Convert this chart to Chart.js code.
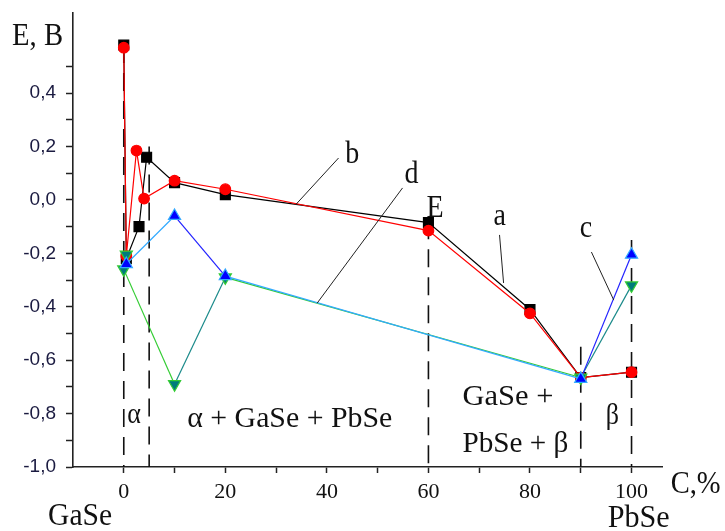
<!DOCTYPE html>
<html>
<head>
<meta charset="utf-8">
<script src="https://cdn.jsdelivr.net/npm/chart.js@4.4.0/dist/chart.umd.min.js"></script>
<style>
  body { margin: 0; background: #fff; }
  canvas { display: block; }
</style>
</head>
<body>
<canvas id="target" width="725" height="531"></canvas>
<script>
// curve a (black squares)
const aX = [0, 0.5, 3, 4.5, 10, 20, 60, 80, 90, 100];
const aY = [0.58, -0.22, -0.10, 0.16, 0.065, 0.02, -0.085, -0.41, -0.665, -0.645];
// curve b (red circles)
const bX = [0, 0.5, 2.5, 4, 10, 20, 60, 80, 90, 100];
const bY = [0.57, -0.21, 0.185, 0.005, 0.072, 0.04, -0.115, -0.425, -0.665, -0.645];
// curve c (blue triangles)
const cX = [0.5, 10, 20, 90, 100];
const cY = [-0.24, -0.06, -0.285, -0.67, -0.205];
// curve d (teal triangles down)
const dX = [0.5, 0, 10, 20, 90, 100];
const dY = [-0.205, -0.26, -0.69, -0.29, -0.665, -0.32];

// phase boundaries (dashed verticals)
const boundX = [0, 5, 60, 90, 100];
const boundTop = [0.58, 0.2, -0.08, -0.55, -0.15];

const xTicks = [0, 10, 20, 30, 40, 50, 60, 70, 80, 90, 100];
const xLabels = [0, 20, 40, 60, 80, 100];
const yLabels = [0.4, 0.2, 0.0, -0.2, -0.4, -0.6, -0.8, -1.0];

// text labels: [text, x, y, size, width in px (0 = natural)]
const texts = [
	['E, B', -22, 0.58, 28, 51],
	['GaSe', -14.9, -1.217, 28, 64],
	['PbSe', 95.3, -1.225, 28, 62],
	['C,%', 107.7, -1.097, 28, 50],
	['α', 0.7, -0.835, 26, 0],
	['α + GaSe + PbSe', 12.5, -0.85, 26, 205],
	['GaSe +', 66.7, -0.768, 26, 91],
	['PbSe + β', 66.7, -0.944, 26, 106],
	['β', 94.9, -0.84, 26, 0],
	['b', 43.6, 0.139, 28, 0],
	['d', 55.3, 0.064, 28, 0],
	['E', 59.6, -0.064, 28, 0],
	['a', 72.8, -0.094, 28, 0],
	['c', 89.8, -0.139, 28, 0]
];
// leader lines: [x1, y1, x2, y2]
const leaders = [
	[42.3, 0.157, 33.8, -0.019],
	[54.9, 0.045, 38.1, -0.386],
	[74.0, -0.131, 74.8, -0.311],
	[92.1, -0.195, 96.5, -0.375]
];

const pts = (xs, ys) => xs.map((x, i) => ({x: x, y: ys[i]}));

const datasets = [];
boundX.forEach((x, i) => {
	datasets.push({
		data: [{x: x, y: boundTop[i]}, {x: x, y: -1.0}],
		borderColor: '#111',
		borderWidth: 1.6,
		borderDash: [18, 10],
		pointRadius: 0,
		showLine: true,
		order: 10
	});
});
datasets.push({
	data: pts(aX, aY), showLine: true, borderColor: '#000', backgroundColor: '#000',
	borderWidth: 1.2, pointStyle: 'rect', pointRadius: 7, order: 4
});
datasets.push({
	data: pts(bX, bY), showLine: true, borderColor: '#ff0000', backgroundColor: '#ff0000',
	borderWidth: 1.2, pointStyle: 'circle', pointRadius: 5.3, order: 3
});
datasets.push({
	data: pts(dX, dY), showLine: true, borderColor: '#33cc33', backgroundColor: '#007b7b',
	borderWidth: 1.2, pointStyle: 'triangle', pointRotation: 180, pointRadius: 7, order: 2,
	segment: { borderColor: ctx => ctx.p0DataIndex % 2 ? '#33cc33' : '#1a8a8a' }
});
datasets.push({
	data: pts(cX, cY), showLine: true, borderColor: '#33aaff', backgroundColor: '#0000ff',
	borderWidth: 1.2, pointStyle: 'triangle', pointRadius: 7, order: 1,
	segment: { borderColor: ctx => ctx.p0DataIndex % 2 ? '#2222ff' : '#33aaff' }
});

const notes = {
	id: 'notes',
	afterDatasetsDraw(chart) {
		const ctx = chart.ctx;
		const xs = chart.scales.x, ys = chart.scales.y;
		ctx.save();
		ctx.strokeStyle = '#222';
		ctx.lineWidth = 1;
		leaders.forEach(l => {
			ctx.beginPath();
			ctx.moveTo(xs.getPixelForValue(l[0]), ys.getPixelForValue(l[1]));
			ctx.lineTo(xs.getPixelForValue(l[2]), ys.getPixelForValue(l[3]));
			ctx.stroke();
		});
		ctx.fillStyle = '#111';
		ctx.textAlign = 'left';
		ctx.textBaseline = 'alphabetic';
		texts.forEach(t => {
			ctx.save();
			ctx.font = t[3] + 'px "Liberation Serif", serif';
			const w = ctx.measureText(t[0]).width;
			const sx = t[4] ? t[4] / w : 1;
			ctx.translate(xs.getPixelForValue(t[1]), ys.getPixelForValue(t[2]));
			ctx.scale(sx, 1.12);
			ctx.fillText(t[0], 0, 0);
			ctx.restore();
		});
		ctx.restore();
	}
};

new Chart(document.getElementById('target'), {
	type: 'scatter',
	data: { datasets: datasets },
	options: {
		responsive: false,
		animation: false,
		layout: { padding: { left: 0, right: 63, top: 13, bottom: 0 } },
		plugins: { legend: { display: false }, tooltip: { enabled: false } },
		scales: {
			x: {
				type: 'linear', min: -10, max: 106,
				afterBuildTicks: s => { s.ticks = xTicks.map(v => ({value: v})); },
				afterFit: s => { s.height = 64; s.paddingLeft = 0; s.paddingRight = 0; },
				grid: { drawOnChartArea: false, tickLength: 6, tickColor: '#222', tickWidth: 1.5 },
				border: { color: '#222', width: 1.6 },
				ticks: {
					autoSkip: false, maxRotation: 0, padding: 6, color: '#111',
					font: { family: '"Liberation Serif", serif', size: 22 },
					callback: v => xLabels.includes(v) ? String(v) : ''
				}
			},
			y: {
				type: 'linear', min: -1.0, max: 0.7,
				afterBuildTicks: s => {
					const t = [];
					for (let i = -10; i <= 5; i++) t.push({value: i / 10});
					s.ticks = t;
				},
				afterFit: s => { s.width = 73; s.paddingTop = 0; s.paddingBottom = 0; },
				grid: { drawOnChartArea: false, tickLength: 7, tickColor: '#222', tickWidth: 1.5 },
				border: { color: '#222', width: 1.6 },
				ticks: {
					autoSkip: false, padding: 10, color: '#1a1a40',
					font: { family: '"Liberation Sans", Arial, sans-serif', size: 19 },
					callback: v => {
						const r = Math.round(v * 10) / 10;
						return yLabels.some(l => Math.abs(l - r) < 1e-6) ? r.toFixed(1).replace('.', ',') : '';
					}
				}
			}
		}
	},
	plugins: [notes]
});
</script>
</body>
</html>
